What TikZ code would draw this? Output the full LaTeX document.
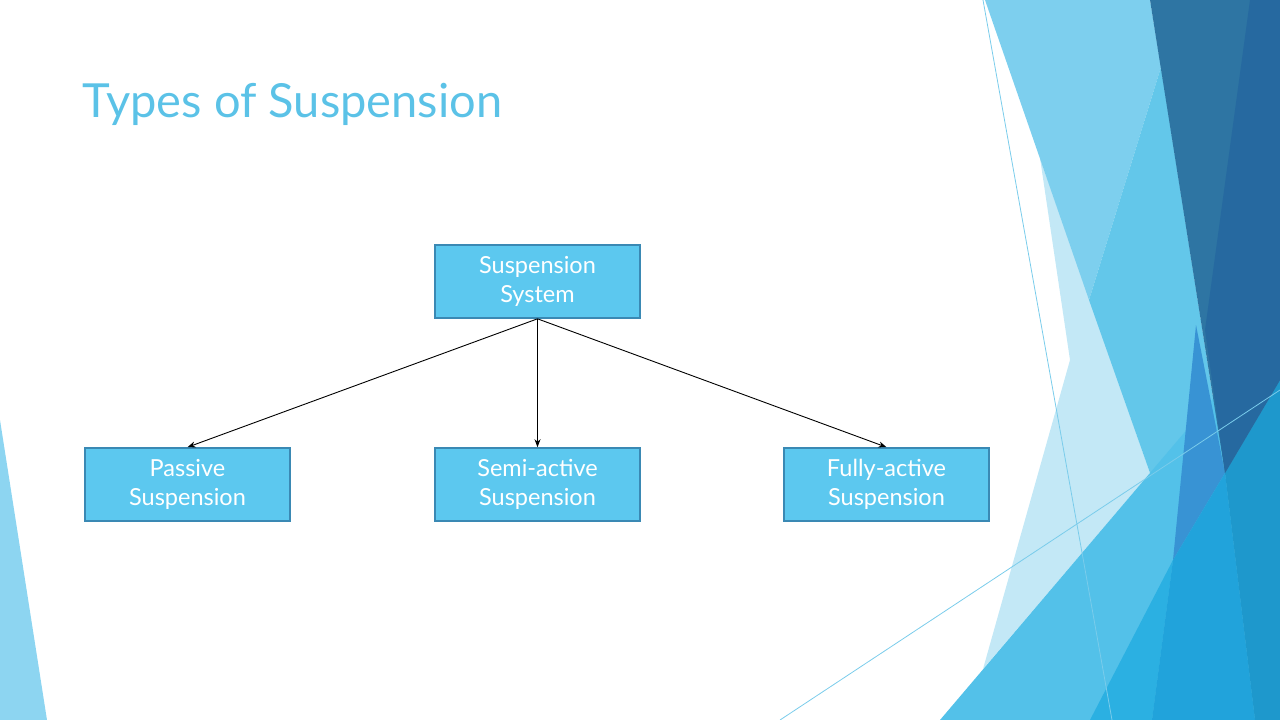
\documentclass[tikz,border=0pt]{standalone}
\usepackage{fontspec}
\setmainfont{Lato}
\usepackage{xcolor}
\usepackage{tikz}
\usetikzlibrary{arrows.meta, positioning}
\definecolor{titleblue}{HTML}{5BC2E7}
\definecolor{boxfill}{HTML}{5CC8EF}
\definecolor{boxedge}{HTML}{3A89B4}
\definecolor{facetsky}{HTML}{7DCFEE}
\definecolor{facetmid}{HTML}{63C7EA}
\definecolor{facetpale}{HTML}{C3E8F6}
\definecolor{facetlow}{HTML}{53C1E9}
\definecolor{facetdeep}{HTML}{3893D4}
\definecolor{facetcyan}{HTML}{2BB0E2}
\definecolor{facetsea}{HTML}{21A3DB}
\definecolor{facetocean}{HTML}{1E98CC}
\definecolor{facetnavy}{HTML}{2E75A3}
\definecolor{facetnight}{HTML}{2669A0}
\definecolor{facetleft}{HTML}{8DD5F1}
\definecolor{facetline}{HTML}{7ACCEB}

\begin{document}
\begin{tikzpicture}[x=1pt, y=-1pt,
  typebox/.style={draw=boxedge, line width=1.6pt, fill=boxfill, minimum width=205pt,
    minimum height=73pt, align=center, text=white, font=\fontsize{23.5}{29}\selectfont},
  link/.style={-{Stealth[length=8pt, width=6pt]}, line width=0.9pt}]
  \useasboundingbox (0,0) rectangle (1280,720);

  % facets on the right
  \fill[facetpale] (1040,158) -- (1070,360) -- (983,669) -- (1150,473) -- cycle;
  \fill[facetsky] (985,0) -- (1150,0) -- (1161,67) -- (1089,300) -- cycle;
  \fill[facetmid] (1161,67) -- (1225,473) -- (1150,473) -- (1089,300) -- cycle;
  \fill[facetlow] (940,720) -- (1280,320) -- (1280,720) -- cycle;
  \fill[facetdeep] (1196,325) -- (1225,473) -- (1173,560) -- cycle;
  \fill[facetcyan] (1090,720) -- (1173,560) -- (1152,720) -- cycle;
  \fill[facetsea] (1152,720) -- (1173,560) -- (1225,473) -- (1255,720) -- cycle;
  \fill[facetocean] (1225,473) -- (1280,380) -- (1280,720) -- (1255,720) -- cycle;
  \fill[facetnavy] (1150,0) -- (1280,0) -- (1280,380) -- (1225,473) -- cycle;
  \fill[facetnight] (1250,0) -- (1280,0) -- (1280,380) -- (1225,473) -- (1205,330) -- cycle;
  \draw[facetline, line width=0.8pt] (983,0) -- (1112,720);
  \draw[facetline, line width=0.8pt] (780,720) -- (1280,390);
  % facet on the left
  \fill[facetleft] (0,420) -- (47,720) -- (0,720) -- cycle;

  \node[anchor=base west, text=titleblue, font=\fontsize{47}{56}\selectfont] (title) at (79,117) {Types of Suspension};

  \node[typebox] (system) at (537.5,281.5) {Suspension\\System};
  \node[typebox] (passive) at (187.5,484.5) {Passive\\Suspension};
  \node[typebox] (semi) at (537.5,484.5) {Semi-active\\Suspension};
  \node[typebox] (fully) at (886.5,484.5) {Fully-active\\Suspension};

  \draw[link] (system.south) -- (passive.north);
  \draw[link] (system.south) -- (semi.north);
  \draw[link] (system.south) -- (fully.north);
\end{tikzpicture}
\end{document}
